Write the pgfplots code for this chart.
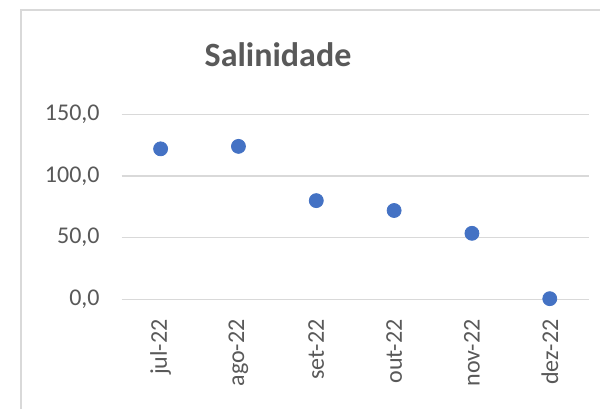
\documentclass[border=0pt]{standalone}
\usepackage{fontspec}
\setmainfont{Carlito}
\usepackage{pgfplots}
\pgfplotsset{compat=1.18}
\definecolor{ptblue}{HTML}{4472C4}
\definecolor{gridc}{HTML}{D9D9D9}
\definecolor{txt}{HTML}{595959}
\begin{document}
\begin{tikzpicture}[x=1pt,y=1pt]
\useasboundingbox (0,0) rectangle (300,204);
\fill[white] (0,0) rectangle (300,204);
\draw[gridc, line width=0.9pt] (10.5,-5) -- (10.5,199) -- (305,199);
\node[text=txt, font=\fontsize{17}{20}\selectfont\bfseries] at (139,176.5) {Salinidade};
\begin{axis}[
  at={(60.85pt,54.35pt)}, anchor=south west,
  scale only axis, width=233.5pt, height=92.5pt,
  xmin=-0.5, xmax=5.5, ymin=0, ymax=150,
  xtick={0,1,2,3,4,5},
  xticklabels={jul-22,ago-22,set-22,out-22,nov-22,dez-22},
  ytick={0,50,100,150},
  axis line style={draw=none},
  ymajorgrids, major grid style={gridc, line width=0.8pt},
  major tick length=0pt,
  clip=false,
  tick label style={font=\fontsize{12}{14}\selectfont, text=txt},
  /pgf/number format/assume math mode=true,
  yticklabel={\pgfmathprintnumber[fixed, fixed zerofill, precision=1, use comma]{\tick}},
  yticklabel shift=7.5pt,
  xticklabel style={rotate=90, anchor=east},
  xticklabel shift=6.5pt,
]
\addplot[only marks, mark=*, mark size=3.5pt, color=ptblue, mark options={fill=ptblue, draw=ptblue}]
  coordinates {(0,122) (1,124) (2,80) (3,72) (4,53.5) (5,0.5)};
\end{axis}
\end{tikzpicture}
\end{document}
